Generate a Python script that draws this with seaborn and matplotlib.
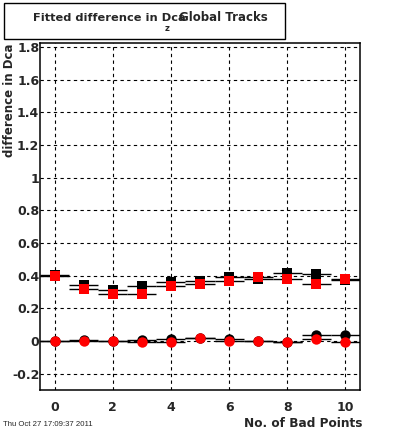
import numpy as np
import pandas as pd
import matplotlib
matplotlib.use("Agg")
import matplotlib.pyplot as plt
from matplotlib.ticker import MultipleLocator
from matplotlib.patches import Rectangle
import seaborn as sns

sns.set_style("white")
plt.rcParams['font.family'] = ['DejaVu Sans']

bad_points = [0, 1, 2, 3, 4, 5, 6, 7, 8, 9, 10]
black_sq = [0.408, 0.346, 0.314, 0.336, 0.364, 0.370, 0.393, 0.378, 0.415, 0.409, 0.377]
red_sq = [0.396, 0.322, 0.291, 0.291, 0.336, 0.352, 0.366, 0.393, 0.378, 0.348, 0.378]
black_ci = [0.003, 0.008, 0.003, 0.006, 0.014, 0.020, 0.012, 0.000, -0.005, 0.035, 0.037]
red_ci = [0.000, 0.003, 0.000, -0.008, -0.008, 0.020, -0.002, 0.004, -0.003, 0.013, -0.008]

fig = plt.figure(figsize=(4.0, 4.33), dpi=100)
ax = fig.add_axes([0.1, 0.1, 0.8, 0.8])

series = [
    ("black_sq", black_sq, "black", "s"),
    ("black_ci", black_ci, "black", "o"),
    ("red_sq", red_sq, "red", "s"),
    ("red_ci", red_ci, "red", "o"),
]
z = 3
for name, vals, col, mk in series:
    df = pd.DataFrame({"x": bad_points, "y": vals})
    ax.errorbar(df["x"], df["y"], xerr=0.5, fmt="none", ecolor="black",
                elinewidth=1.0, zorder=z)
    sns.scatterplot(data=df, x="x", y="y", ax=ax, color=col, marker=mk,
                    s=48 if mk == "s" else 56, linewidth=0, zorder=z + 1,
                    legend=False)
    z += 2

ax.set_xlim(-0.5, 10.5)
ax.set_ylim(-0.297, 1.823)
ax.xaxis.set_major_locator(MultipleLocator(2))
ax.xaxis.set_minor_locator(MultipleLocator(1 / 3))
ax.yaxis.set_major_locator(MultipleLocator(0.2))
ax.yaxis.set_minor_locator(MultipleLocator(0.05))
ax.tick_params(axis="both", which="major", direction="in", length=10,
               width=1, color="black", labelsize=9)
ax.tick_params(axis="both", which="minor", direction="in", length=5,
               width=1, color="black")
ax.tick_params(top=False, right=False, which="both")
ax.tick_params(axis="x", pad=8)
ax.tick_params(axis="y", pad=0.5)
for lab in ax.get_xticklabels() + ax.get_yticklabels():
    lab.set_fontweight("bold")

def fmt(v, pos):
    s = f"{v:.1f}"
    if s in ("0.0", "-0.0"):
        return "0"
    if s.endswith(".0"):
        return s[:-2]
    return s
ax.yaxis.set_major_formatter(matplotlib.ticker.FuncFormatter(fmt))

ax.grid(True, which="major", color="black", linestyle=(0, (3, 3)), linewidth=0.8)
ax.set_axisbelow(True)
for sp in ax.spines.values():
    sp.set_color("black")
    sp.set_linewidth(1.1)

ax.set_xlabel("")
ax.set_ylabel("")
fig.text(0.905, (433 - 427) / 433, "No. of Bad Points", ha="right",
         va="baseline", fontsize=8.7, fontweight="bold")
fig.text(0.024, 0.9, "difference in Dca", rotation=90, ha="center", va="top",
         fontsize=8.5, fontweight="bold")
fig.text(0.008, (433 - 426) / 433, "Thu Oct 27 17:09:37 2011", ha="left",
         va="baseline", fontsize=5.6, family="Liberation Sans")

# title box
fig.patches.append(Rectangle((4 / 400, 1 - 39 / 433), 281 / 400, 36 / 433,
                             transform=fig.transFigure, facecolor="white",
                             edgecolor="black", linewidth=1.0, zorder=10))
fig.text(33 / 400, 1 - 21 / 433, "Fitted difference in Dca", ha="left",
         va="baseline", fontsize=8.2, fontweight="bold", zorder=11)
fig.text(167 / 400, 1 - 28.5 / 433, "z", ha="center", va="center",
         fontsize=6, fontweight="bold", zorder=11)
fig.text(268 / 400, 1 - 21 / 433, "Global Tracks", ha="right",
         va="baseline", fontsize=8.5, fontweight="bold", zorder=11)

fig.savefig("out.png", dpi=100)
